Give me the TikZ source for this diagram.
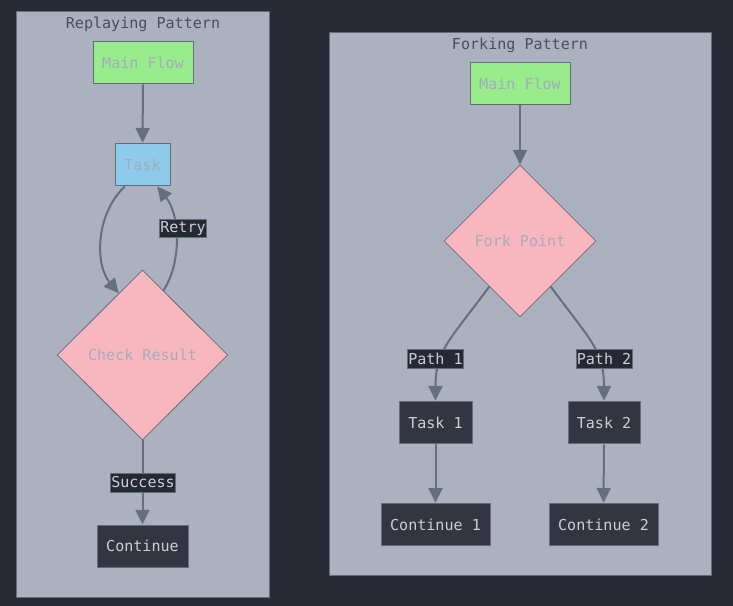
\documentclass[tikz,border=0pt]{standalone}
\usepackage{fontspec}
\setmonofont{DejaVu Sans Mono}
\usetikzlibrary{shapes.geometric,arrows.meta}
\definecolor{bgc}{RGB}{40,42,54}
\definecolor{clfill}{RGB}{171,177,191}
\definecolor{clline}{RGB}{100,108,125}
\definecolor{titlec}{RGB}{74,79,92}
\definecolor{greenc}{RGB}{152,236,139}
\definecolor{bluec}{RGB}{142,203,234}
\definecolor{pinkc}{RGB}{248,182,190}
\definecolor{fainttxt}{RGB}{165,171,190}
\definecolor{darkbox}{RGB}{51,54,65}
\definecolor{lighttxt}{RGB}{200,206,218}
\definecolor{edgec}{RGB}{102,110,130}
\definecolor{lblbg}{RGB}{38,40,50}
\tikzset{
  x=0.75pt, y=-0.75pt,
  every node/.style={font=\ttfamily\fontsize{11.3}{13}\selectfont},
  cluster/.style={draw=clline, fill=clfill, line width=0.75pt},
  ctitle/.style={text=titlec, inner sep=0pt},
  boxn/.style={draw=clline, line width=0.75pt, inner sep=0pt, minimum height=32pt},
  greenbox/.style={boxn, fill=greenc, text=fainttxt},
  bluebox/.style={boxn, fill=bluec, text=fainttxt},
  darkn/.style={boxn, fill=darkbox, text=lighttxt},
  decision/.style={diamond, draw=clline, line width=0.6pt, fill=pinkc, text=fainttxt, inner sep=0pt},
  edge/.style={draw=edgec, line width=1.5pt, -{Triangle[length=11pt,width=10.5pt]}},
  lbl/.style={fill=lblbg, draw=clline, line width=0.5pt, text=lighttxt, inner xsep=0.6pt, inner ysep=0pt, minimum height=14pt}
}
\begin{document}
\begin{tikzpicture}
\fill[bgc] (0,0) rectangle (733,606);
\useasboundingbox (0,0) rectangle (733,606);
% clusters
\draw[cluster] (16,12) rectangle (269,597);
\draw[cluster] (329,33) rectangle (711,575);
\node[ctitle] (t1) at (143,24) {Replaying Pattern};
\node[ctitle] (t2) at (520,45) {Forking Pattern};
% left
\node[greenbox, minimum width=75pt] (mf1) at (143,62.5) {Main Flow};
\node[bluebox, minimum width=41.25pt] (task) at (142.5,164.5) {Task};
\node[decision, minimum width=128pt, minimum height=127.5pt] (check) at (142.5,355) {Check Result};
\node[darkn, minimum width=68.25pt, minimum height=31.5pt] (cont) at (142.5,546) {Continue};
\draw[edge] (mf1) -- (task);
\draw[edge] (task.-129) .. controls (95,215) and (95,265) .. (check.111);
\draw[edge] (check.72) .. controls (182,262) and (180,215) .. (task.-56);
\draw[edge] (check.south) -- (cont.north);
\node[lbl] (lretry) at (183,228.5) {Retry};
\node[lbl] (lsucc) at (143,482.5) {Success};
% right
\node[greenbox, minimum width=75pt, minimum height=31.5pt] (mf2) at (520,84) {Main Flow};
\node[decision, minimum width=114pt, minimum height=114pt] (fork) at (520,241) {Fork Point};
\node[darkn, minimum width=54.75pt] (task1) at (435.5,422.5) {Task 1};
\node[darkn, minimum width=54pt] (task2) at (604,422.5) {Task 2};
\node[darkn, minimum width=81.75pt] (cont1) at (435.5,524.5) {Continue 1};
\node[darkn, minimum width=81.75pt] (cont2) at (603.5,524.5) {Continue 2};
\draw[edge] (mf2) -- (fork.north);
\draw[edge] (fork.-124) .. controls (450,340) and (435.5,350) .. (task1.north);
\draw[edge] (fork.-56) .. controls (590,340) and (604,350) .. (task2.north);
\draw[edge] (task1) -- (cont1);
\draw[edge] (task2) -- (cont2);
\node[lbl] (lp1) at (435.5,359) {Path 1};
\node[lbl] (lp2) at (604,359) {Path 2};
\end{tikzpicture}
\end{document}
